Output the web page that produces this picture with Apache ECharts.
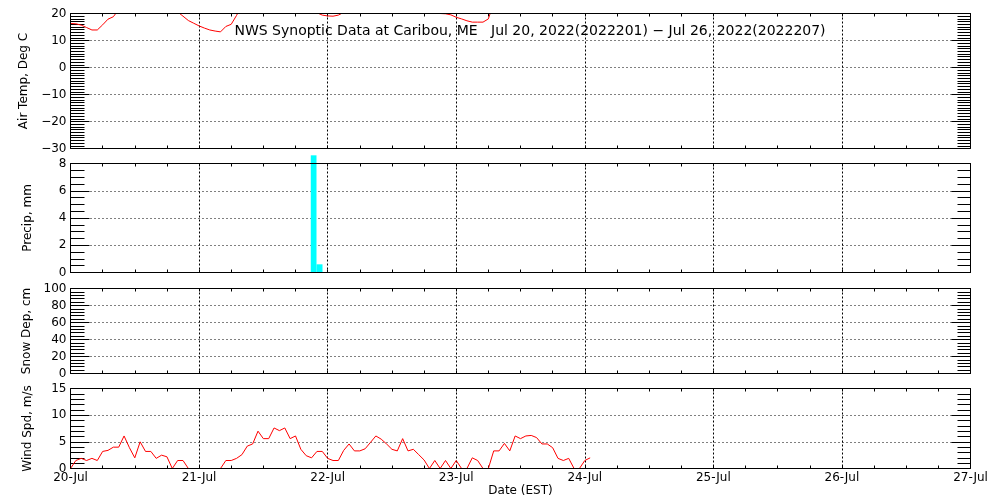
<!DOCTYPE html>
<html>
<head>
<meta charset="utf-8">
<script src="https://cdn.jsdelivr.net/npm/echarts@6/dist/echarts.min.js"></script>
<style>
html,body{margin:0;padding:0;background:#fff;}
#chart{width:1000px;height:500px;}
</style>
</head>
<body>
<div id="chart"></div>
<script>
// x positions are hours since 20-Jul 00:00 (EST)
const dayLabels = ['20-Jul','21-Jul','22-Jul','23-Jul','24-Jul','25-Jul','26-Jul','27-Jul'];

// hourly air temperature, deg C (h0 .. h97)
const tempC = [
  16.3,16.2,15.7,14.8,13.9,13.9,15.8,17.9,18.8,21.5,
  23,24.5,26,27,27.5,28,27.5,26.5,25,22.5,
  20.6,19.0,17.4,16.4,15.4,14.6,13.9,13.5,13.2,15.2,
  16.0,19.3,23,24,25.5,26.5,27.5,28,28,27.5,
  26.5,25,23.5,22.5,21.5,20.8,20.3,19.4,19.1,19.0,
  19.4,20.4,21.5,22.5,24,25.5,27,28,28.5,28.5,
  28,27,25.5,24,22.5,21.5,20.8,20.4,20.2,20.0,
  19.9,19.5,18.6,18.0,17.3,16.8,16.8,16.8,18.0,24,
  25.5,26.5,27.5,28,28.5,28.5,28,27,26,25,
  24,23,22.5,22,21.5,21,21,20.8
];

// hourly wind speed, m/s (h0 .. h97)
const windMs = [
  0,1.5,1.9,1.5,1.9,1.5,3.2,3.4,4.0,4.0,
  6.1,3.9,2.0,5.0,3.2,3.2,1.9,2.5,2.2,0,
  1.5,1.5,0,0,0,0,0,0,0,1.5,
  1.5,1.9,2.6,4.2,4.6,7.0,5.6,5.6,7.6,7.1,
  7.6,5.6,6.1,3.6,2.4,2.0,3.2,3.2,1.9,1.5,
  1.5,3.4,4.6,3.3,3.3,3.7,4.9,6.1,5.5,4.6,
  3.6,3.3,5.6,3.3,3.6,2.6,1.6,0,1.5,0,
  1.5,0,1.5,0,0,2.0,1.5,0,0,3.3,
  3.3,4.7,3.3,6.1,5.6,6.1,6.2,5.8,4.6,4.6,
  3.9,1.9,1.5,1.9,0,0,1.5,2.0
];

// precipitation intervals (hours) and amounts, mm
const precipStart = [44.85, 45.92];
const precipEnd   = [45.92, 47.04];
const precipMm    = [8.6, 0.6];

const panelNames = ['Air Temp, Deg C','Precip, mm','Snow Dep, cm','Wind Spd, m/s'];
const panelMin = [-30, 0, 0, 0];
const panelMax = [20, 8, 100, 15];
const panelStep = [10, 2, 20, 5];
const panelMinor = [10, 4, 5, 5];

const titleText = 'NWS Synoptic Data at Caribou, ME   Jul 20, 2022(2022201) \u2212 Jul 26, 2022(2022207)';

const FONT = 'DejaVu Sans';
const gridPos = [
  {top:13.5, height:135},
  {top:163.5, height:109},
  {top:288.5, height:85},
  {top:388.5, height:80}
];

const grids = [], xAxes = [], yAxes = [];
gridPos.forEach((g, i) => {
  grids.push({left:70.5, right:29.5, top:g.top, height:g.height, show:true,
    borderColor:'#000', borderWidth:1, backgroundColor:'transparent', z:10});
  const xBase = {
    type:'value', gridIndex:i, min:0, max:168, interval:24,
    axisLine:{show:false, onZero:false},
    axisTick:{show:true, inside:true, length:3, lineStyle:{color:'#000', width:1}},
    minorTick:{show:true, splitNumber:4, length:3, lineStyle:{color:'#000', width:1}},
  };
  xAxes.push(Object.assign({}, xBase, {
    position:'bottom',
    axisLabel:{show:i===3, color:'#000', fontFamily:FONT, fontSize:12, margin:3,
      formatter:(v)=>dayLabels[Math.round(v/24)]},
    splitLine:{show:true, lineStyle:{color:'#000', width:1, type:[2,2]}},
    name: i===3 ? 'Date (EST)' : '',
    nameLocation:'middle', nameGap:15,
    nameTextStyle:{color:'#000', fontFamily:FONT, fontSize:12}
  }));
  xAxes.push(Object.assign({}, xBase, {
    position:'top', axisLabel:{show:false}, splitLine:{show:false}
  }));
  const yBase = {
    type:'value', gridIndex:i, min:panelMin[i], max:panelMax[i], interval:panelStep[i],
    axisLine:{show:false, onZero:false},
    axisTick:{show:true, inside:true, length:19, lineStyle:{color:'#000', width:1}},
    minorTick:{show:true, splitNumber:panelMinor[i], length:14, lineStyle:{color:'#000', width:1}}
  };
  yAxes.push(Object.assign({}, yBase, {
    position:'left',
    axisLabel:{color:'#000', fontFamily:FONT, fontSize:12, margin:4,
      formatter:(v)=>String(v).replace('-', '\u2212')},
    splitLine:{show:true, lineStyle:{color:'#000', width:1, type:[1,3]}},
    name:panelNames[i], nameLocation:'middle', nameGap:37,
    nameTextStyle:{color:'#000', fontFamily:FONT, fontSize:12}
  }));
  yAxes.push(Object.assign({}, yBase, {
    position:'right',
    minorTick:{show:true, splitNumber:panelMinor[i], length:13, lineStyle:{color:'#000', width:1}},
    axisLabel:{show:false}, splitLine:{show:false}
  }));
});

const chart = echarts.init(document.getElementById('chart'), null, {renderer:'canvas'});
chart.setOption({
  animation:false,
  backgroundColor:'#fff',
  grid:grids,
  xAxis:xAxes,
  yAxis:yAxes,
  graphic:[
    {type:'text', z:20, x:530, y:31,
     style:{text:titleText, align:'center', verticalAlign:'middle',
       font:'14px "DejaVu Sans"', fill:'#000'}}
  ],
  series:[
    {type:'line', xAxisIndex:0, yAxisIndex:0, data:tempC.map((v,i)=>[i,v]),
     showSymbol:false, symbol:'none', clip:true,
     lineStyle:{color:'#ff0000', width:1}, itemStyle:{color:'#ff0000'}},
    {type:'custom', xAxisIndex:2, yAxisIndex:2, clip:false,
     data:precipStart.map((s,i)=>[s, precipEnd[i], precipMm[i]]),
     encode:{x:[0,1], y:2},
     renderItem:(params, api)=>{
       const p0 = api.coord([api.value(0), api.value(2)]);
       const p1 = api.coord([api.value(1), 0]);
       return {type:'rect', shape:{x:p0[0], y:p0[1], width:p1[0]-p0[0], height:p1[1]-p0[1]},
         style:{fill:'#00ffff'}};
     }},
    {type:'line', xAxisIndex:6, yAxisIndex:6, data:windMs.map((v,i)=>[i,v]),
     showSymbol:false, symbol:'none', clip:true,
     lineStyle:{color:'#ff0000', width:1}, itemStyle:{color:'#ff0000'}}
  ]
});
</script>
</body>
</html>
